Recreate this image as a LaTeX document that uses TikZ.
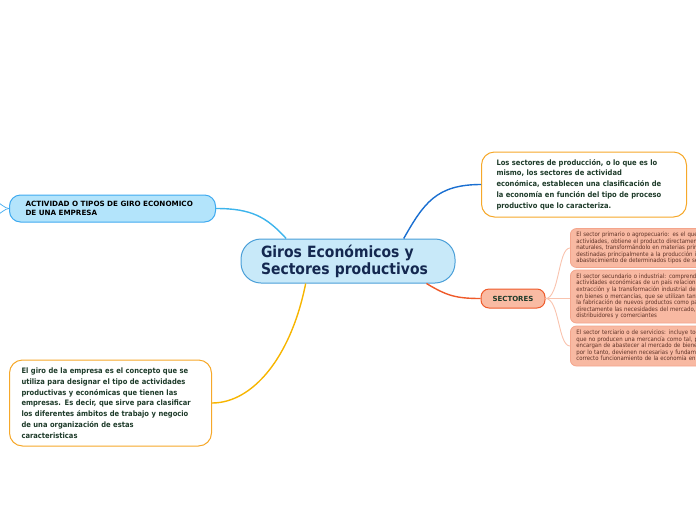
\documentclass[tikz,border=0pt]{standalone}
\usepackage{fontspec}
\setmainfont{DejaVu Sans}
\newfontfamily\narrowfont{DejaVu Sans}[FakeStretch=0.9]
\usepackage{xcolor}

\definecolor{titlefill}{HTML}{C8E9F9}
\definecolor{titleline}{HTML}{4A9FD8}
\definecolor{titletext}{HTML}{142850}
\definecolor{bodytext}{HTML}{1E3B2A}
\definecolor{orangeline}{HTML}{F6A82A}
\definecolor{actfill}{HTML}{B3E4FB}
\definecolor{actline}{HTML}{3FAAF0}
\definecolor{actlink}{HTML}{3DB4EC}
\definecolor{deflink}{HTML}{1A6FD1}
\definecolor{girolink}{HTML}{F7B500}
\definecolor{secfill}{HTML}{F9BBA3}
\definecolor{secline}{HTML}{EF5A2A}
\definecolor{subfill}{HTML}{F8B9A2}
\definecolor{subline}{HTML}{F4A58C}
\definecolor{sublink}{HTML}{F9C3AE}
\definecolor{subtext}{HTML}{5E3226}

\begin{document}
\begin{tikzpicture}[x=1pt,y=1pt,yscale=-1,xscale=1,
  notebox/.style={rectangle, rounded corners=13, draw=orangeline, fill=white, line width=1,
    anchor=west, align=left, text=bodytext,
    font=\narrowfont\bfseries\fontsize{7.5}{10.8}\selectfont},
  subbox/.style={rectangle, rounded corners=6, draw=subline, fill=subfill, line width=0.8,
    anchor=west, inner xsep=6, text width=200, align=left, text=subtext,
    font=\narrowfont\fontsize{6}{6.6}\selectfont},
  sublinkline/.style={draw=sublink, line width=0.9}]
\useasboundingbox (0,0) rectangle (696,520);
\clip (0,0) rectangle (696,520);

% Text Node
\node [rectangle, rounded corners=20, draw=titleline, fill=titlefill, line width=1,
  minimum width=214, minimum height=44, text width=174, align=left, text=titletext,
  font=\narrowfont\bfseries\fontsize{15.5}{17}\selectfont] (title) at (348,261)
  {Giros Económicos y\\Sectores productivos};
% Text Node
\node [notebox, inner xsep=15, text width=175, minimum height=65] (defsect) at (481,184.5)
  {Los sectores de producción, o lo que es lo\\mismo, los sectores de actividad\\económica, establecen una clasificación de\\la economía en función del tipo de proceso\\productivo que lo caracteriza.};
% Text Node
\node [rectangle, rounded corners=11, draw=actline, fill=actfill, line width=1, anchor=west,
  inner xsep=16, text width=174, minimum height=27, align=left,
  font=\bfseries\fontsize{7.2}{9}\selectfont] (actividad) at (9,208.5)
  {ACTIVIDAD O TIPOS DE GIRO ECONOMICO\\DE UNA EMPRESA};
% Text Node
\node [notebox, inner xsep=12, text width=178, minimum height=86] (giro) at (9,403)
  {El giro de la empresa es el concepto que se\\utiliza para designar el tipo de actividades\\productivas y económicas que tienen las\\empresas. Es decir, que sirve para clasificar\\los diferentes ámbitos de trabajo y negocio\\de una organización de estas\\caracteristicas};
% Text Node
\node [rectangle, rounded corners=8, draw=secline, fill=secfill, line width=1,
  minimum width=64, minimum height=19, text=bodytext,
  font=\bfseries\fontsize{7}{8}\selectfont] (sectores) at (513,298.5) {SECTORES};
% Text Node
\node [subbox, minimum height=38] (primario) at (570,248)
  {El sector primario o agropecuario: es el que, en sus\\actividades, obtiene el producto directamente de los\\naturales, transformándolo en materias primas no\\destinadas principalmente a la producción industrial\\abastecimiento de determinados tipos de servicios.};
% Text Node
\node [subbox, minimum height=53] (secundario) at (570,296.5)
  {El sector secundario o industrial: comprende todas las\\actividades económicas de un país relacionadas con la\\extracción y la transformación industrial de materias\\en bienes o mercancías, que se utilizan tanto como base\\la fabricación de nuevos productos como para satisfacer\\directamente las necesidades del mercado, a través de\\distribuidores y comerciantes};
% Text Node
\node [subbox, minimum height=40] (terciario) at (570,346)
  {El sector terciario o de servicios: incluye todas aquellas\\que no producen una mercancía como tal, pero que se\\encargan de abastecer al mercado de bienes y servicios\\por lo tanto, devienen necesarias y fundamentales para el\\correcto funcionamiento de la economía en general.};

%Curve Lines
\draw [draw=deflink, line width=1.4] (title.22) .. controls +(20,-35) and +(-45,0) .. (defsect.west);
\draw [draw=actlink, line width=1.4] (title.160) .. controls +(-20,-22) and +(35,0) .. (actividad.east);
\draw [draw=girolink, line width=1.4] (title.208) .. controls +(-15,75) and +(40,0) .. (giro.east);
\draw [draw=secline, line width=1.4] (title.-16) .. controls +(20,12) and +(-25,0) .. (sectores.west);
%Curve Lines
\draw [sublinkline] (sectores.east) .. controls +(14,0) and +(-12,0) .. (primario.west);
\draw [sublinkline] (sectores.east) -- (secundario.west |- sectores.east);
\draw [sublinkline] (sectores.east) .. controls +(14,0) and +(-12,0) .. (terciario.west);
%Curve Lines
\coordinate (offup) at (-3,202);
\coordinate (offdown) at (-3,215);
\draw [draw=actline, line width=0.7] (actividad.west) .. controls +(-4,0) and +(3,1) .. (offup);
\draw [draw=actline, line width=0.7] (actividad.west) .. controls +(-4,0) and +(3,-1) .. (offdown);

\end{tikzpicture}
\end{document}
